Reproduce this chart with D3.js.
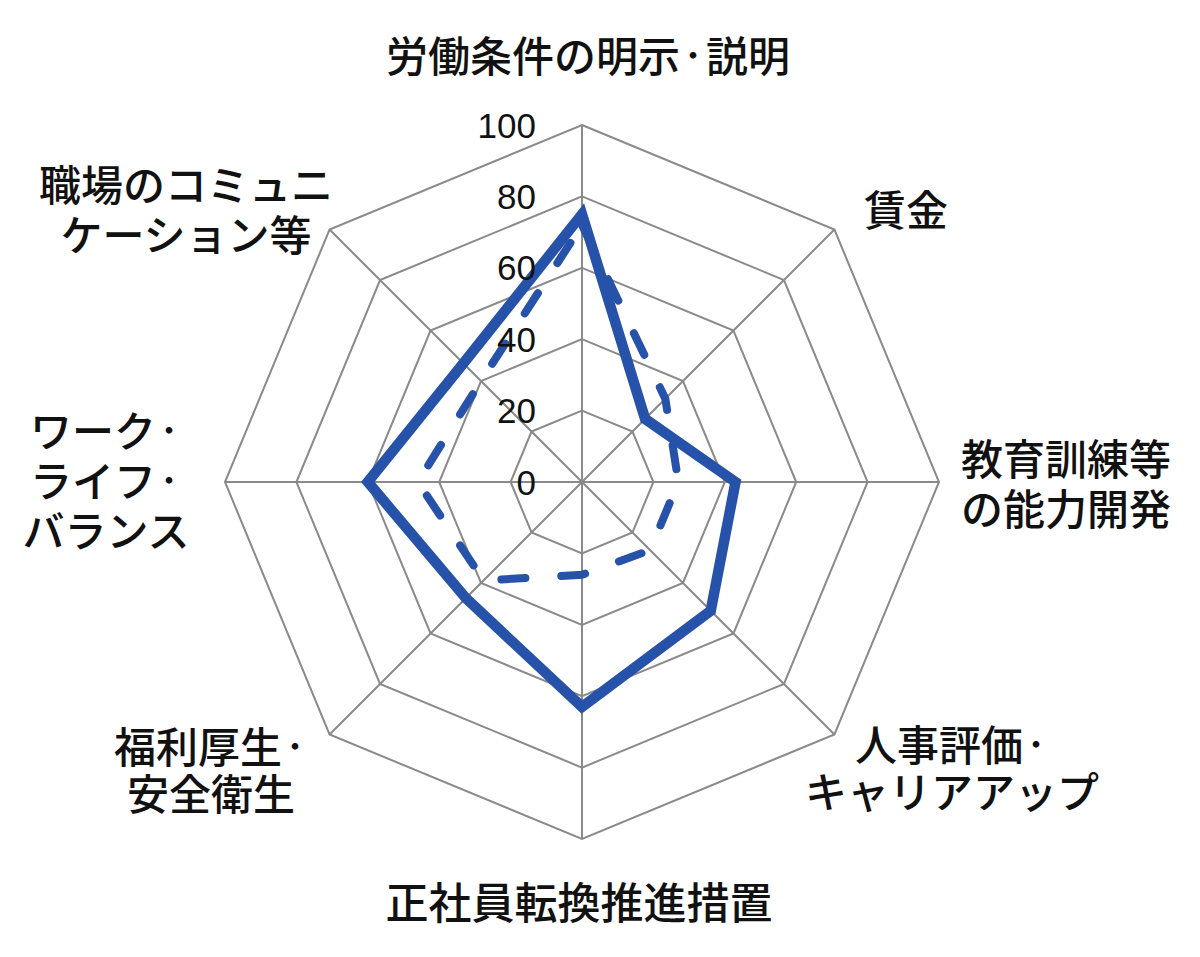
<!DOCTYPE html>
<html>
<head>
<meta charset="utf-8">
<script src="https://cdn.jsdelivr.net/npm/d3@7"></script>
<style>
html,body{margin:0;padding:0;background:#fff;}
svg{display:block;}
</style>
</head>
<body>
<svg id="chart" width="1200" height="957"></svg>
<script>
const categories = [
  ["労働条件の明示・説明"],
  ["賃金"],
  ["教育訓練等", "の能力開発"],
  ["人事評価・", "キャリアアップ"],
  ["正社員転換推進措置"],
  ["福利厚生・", "安全衛生"],
  ["ワーク・", "ライフ・", "バランス"],
  ["職場のコミュニ", "ケーション等"]
];
const solidValues = [75, 25, 43, 51, 63, 46, 60, 47];
const dashedValues = [72, 33, 27, 27, 26, 39, 46, 40];
const tickValues = [0, 20, 40, 60, 80, 100];

const svg = d3.select("#chart");
const cx = 582, cy = 482, R = 357;
const n = categories.length;
const r = d3.scaleLinear().domain([0, 100]).range([0, R]);
const ang = d3.scaleLinear().domain([0, n]).range([0, 2 * Math.PI]);
const pt = (i, v) => [cx + r(v) * Math.sin(ang(i)), cy - r(v) * Math.cos(ang(i))];

const g = svg.append("g");
// rings
tickValues.filter(t => t > 0).forEach(t => {
  g.append("path")
    .attr("d", d3.line()(d3.range(n).map(i => pt(i, t))) + "Z")
    .attr("fill", "none").attr("stroke", "#8a8a8a").attr("stroke-width", 2);
});
// spokes
d3.range(n).forEach(i => {
  const p = pt(i, 100);
  g.append("line").attr("x1", cx).attr("y1", cy).attr("x2", p[0]).attr("y2", p[1])
    .attr("stroke", "#8a8a8a").attr("stroke-width", 2);
});

const radial = d3.line().curve(d3.curveLinearClosed);
g.append("path")
  .attr("d", radial(dashedValues.map((v, i) => pt(i, v))))
  .attr("fill", "none").attr("stroke", "#2752aa").attr("stroke-width", 8)
  .attr("stroke-dasharray", "24,36").attr("stroke-linecap", "round");
g.append("path")
  .attr("d", radial(solidValues.map((v, i) => pt(i, v))))
  .attr("fill", "none").attr("stroke", "#2752aa").attr("stroke-width", 10.5)
  .attr("stroke-linejoin", "miter");

// tick labels
tickValues.forEach(t => {
  g.append("text").attr("x", cx - 46).attr("y", cy - r(t))
    .attr("text-anchor", "end").attr("dominant-baseline", "central")
    .attr("font-family", "'Liberation Sans', 'Noto Sans', sans-serif")
    .attr("font-size", 35).attr("fill", "#111").text(t);
});

// category labels
const font = "'Noto Sans CJK JP', 'Noto Sans', sans-serif";
const labelPos = [
  [588, 53, 50], [906, 207, 50], [1066, 481, 50], [952, 766, 47],
  [579, 900, 50], [211, 768, 47], [106, 478, 50], [186, 207, 50]
];
categories.forEach((lines, i) => {
  const [x, y, lh] = labelPos[i];
  const y0 = y - (lines.length - 1) * lh / 2;
  const t = g.append("text").attr("text-anchor", "middle")
    .attr("font-family", font).attr("font-size", i === 4 ? 43 : 42)
    .attr("font-weight", 500).attr("fill", "#111");
  lines.forEach((s, k) => {
    const parts = s.split("・");
    parts.forEach((p, j) => {
      if (j === 0) {
        t.append("tspan").attr("x", x).attr("y", y0 + k * lh)
          .attr("dominant-baseline", "central").text(p);
      } else {
        t.append("tspan").attr("font-size", 26).attr("font-weight", 700)
          .attr("dominant-baseline", "central").text("・");
        if (p.length) t.append("tspan").attr("dominant-baseline", "central").text(p);
      }
    });
  });
});
</script>
</body>
</html>
